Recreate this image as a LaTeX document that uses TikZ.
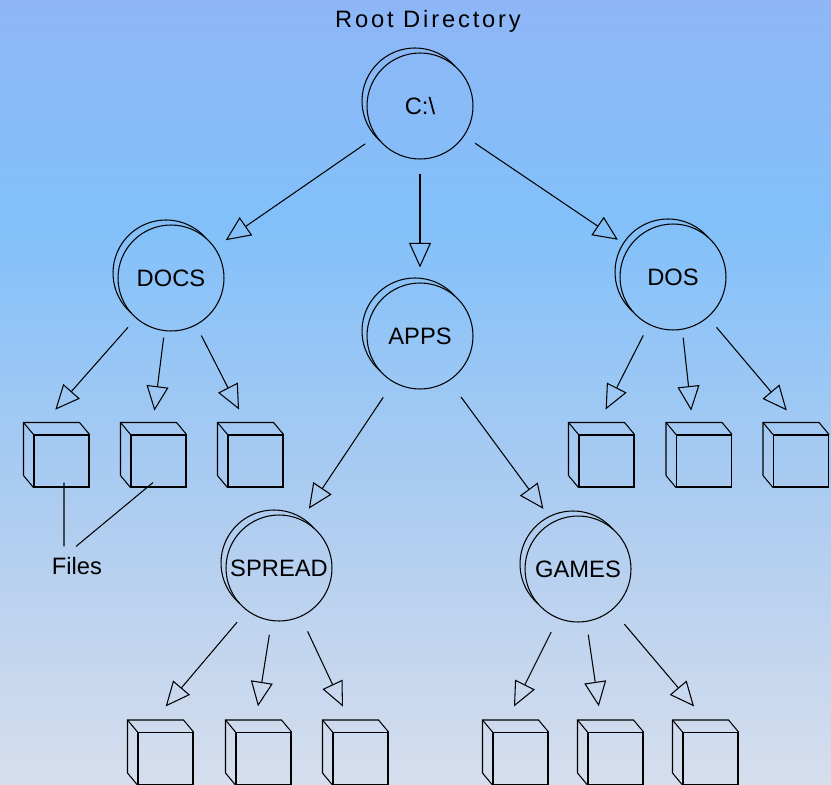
\documentclass[tikz,border=0pt]{standalone}
\usepackage{fontspec}
\setmainfont{Liberation Sans}
\newfontfamily\spacedfont[LetterSpace=12]{Liberation Sans}
\usetikzlibrary{arrows.meta}

\definecolor{skytop}{RGB}{142,182,246}
\definecolor{skymid}{RGB}{130,192,250}
\definecolor{skylow}{RGB}{175,205,240}
\definecolor{skybot}{RGB}{214,222,237}
\pgfdeclareverticalshading{sky}{100bp}{color(0bp)=(skybot); color(25bp)=(skybot);
  color(42bp)=(skylow); color(61bp)=(skymid); color(75bp)=(skytop); color(100bp)=(skytop)}

\tikzset{
  dir/.style={circle, draw, line width=0.6pt, minimum size=2.12cm, inner sep=0pt},
  file/.style={rectangle, draw, line width=0.6pt, minimum width=1.1cm,
               minimum height=1.04cm, inner sep=0pt},
  link/.style={-{Triangle[open,length=14pt,width=12.5pt]}, line width=0.6pt},
}

\begin{document}
\begin{tikzpicture}[x=0.02cm, y=-0.02cm, font=\fontsize{13.5}{16}\selectfont]

\shade[shading=sky] (0,0) rectangle (831,784);
\useasboundingbox (0,0) rectangle (831,784);

\node[font={\spacedfont\fontsize{13.5}{16}\selectfont}] (title) at (428,21) {Root Directory};

% directories
\node[dir] (root)   at (420,106) {C:\textbackslash};
\node[dir] (docs)   at (171,278) {DOCS};
\node[dir] (apps)   at (420,336) {APPS};
\node[dir] (dos)    at (673,277) {DOS};
\node[dir] (spread) at (279,568) {SPREAD};
\node[dir] (games)  at (578,569) {GAMES};

% second rim behind each directory
\foreach \n in {root,docs,apps,dos,spread,games}
  \draw[line width=0.6pt] ([shift={(-5,-5)}]\n.center) ++(131:53)
    arc[start angle=131, end angle=319, radius=53];

% files (front face of each box)
\foreach \f/\x/\y in {dc1/61.5/461, dc2/158.5/461, dc3/255.5/461,
                      ds1/606.5/461, ds2/704/461, ds3/801/461,
                      sp1/165.5/758.5, sp2/263.5/758.5, sp3/360.5/758.5,
                      gm1/520.5/758.5, gm2/615.5/758.5, gm3/710.5/758.5}
  \node[file] (\f) at (\x,\y) {};

% back faces
\foreach \f in {dc1,dc2,dc3,ds1,ds2,ds3,sp1,sp2,sp3,gm1,gm2,gm3} {
  \draw[line width=0.6pt] ([shift={(-10,-12)}]\f.south west)
    |- ([shift={(-10,-12)}]\f.north east) -- (\f.north east);
  \draw[line width=0.6pt] ([shift={(-10,-12)}]\f.north west) -- (\f.north west);
  \draw[line width=0.6pt] ([shift={(-10,-12)}]\f.south west) -- (\f.south west);
}

% tree links
\foreach \a/\b/\s/\e in {root/docs/0.26cm/0.26cm, root/apps/0.28cm/0.3cm, root/dos/0.26cm/0.26cm,
    apps.-120/spread.65/0.36cm/0.26cm, apps.-57/games.118/0.4cm/0.32cm,
    docs.-131/dc1.north west/0.24cm/0.66cm, docs.-97/dc2.105/0.13cm/0.48cm,
    docs.-62/dc3.98/0.23cm/0.56cm,
    dos.-117/ds1.117/0.24cm/0.56cm, dos.-80/ds2.111/0.16cm/0.48cm,
    dos.-49/ds3.77/0.26cm/0.63cm,
    spread.-127/sp1.129/0.3cm/0.67cm, spread.-98/sp2.110/0.28cm/0.52cm,
    spread.-66/sp3.102/0.32cm/0.56cm,
    games.-112/gm1.126/0.3cm/0.57cm, games.-81/gm2.116/0.26cm/0.52cm,
    games.-50/gm3.79/0.37cm/0.67cm}
  \draw[link, shorten <=\s, shorten >=\e] (\a) -- (\b);

% label for the files
\node[inner sep=0pt] (files) at (77,566) {Files};
\draw[line width=0.6pt] ([shift={(2.5,-5)}]dc1.south) -- ([shift={(-13,-10.5)}]files.north);
\draw[line width=0.6pt] ([shift={(-5.5,-5)}]dc2.south) -- ([shift={(-1,-10.5)}]files.north);

\end{tikzpicture}
\end{document}
